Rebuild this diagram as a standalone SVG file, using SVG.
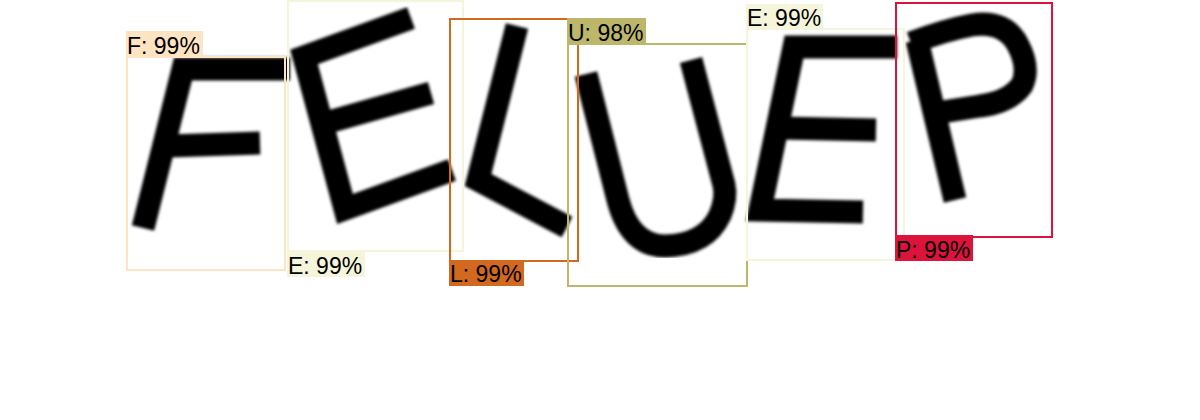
<svg xmlns="http://www.w3.org/2000/svg" width="1200" height="420" viewBox="0 0 1200 420">
  <defs>
    <filter id="soft" x="-5%" y="-5%" width="110%" height="110%">
      <feGaussianBlur stdDeviation="1.5"/>
    </filter>
  </defs>
  <style>
    .stroke { fill: none; stroke: #000; stroke-width: 23; stroke-linecap: butt; stroke-linejoin: miter; }
    .round { stroke-linejoin: round; }
    .box { fill: none; stroke-width: 2; }
    .lbl { font-family: "Liberation Sans", Arial, sans-serif; font-size: 23px; fill: #000; }
  </style>
  <rect x="0" y="0" width="1200" height="420" fill="#ffffff"/>

  <g id="captcha" filter="url(#soft)">
    <!-- F -->
    <path class="stroke" d="M 290,69 L 183,69 L 143,228"/>
    <path class="stroke" d="M 168,146 L 260,143" stroke-width="25"/>
    <!-- E -->
    <path class="stroke" d="M 411,18 L 304,57 L 345,209 L 452,170"/>
    <path class="stroke" d="M 325,123 L 431,93"/>
    <!-- L -->
    <path class="stroke" d="M 517,26 L 478,180 L 567,227"/>
    <!-- U -->
    <path class="stroke round" d="M 586,74 L 618,200 Q 630,246 665,246 Q 706,245 720,215 Q 727,198 724,185 L 691,60"/>
    <!-- E -->
    <path class="stroke" d="M 897,47 L 794,47 L 760,210 L 863,212" stroke-width="25"/>
    <path class="stroke" d="M 779,128 L 876,130" stroke-width="25"/>
    <!-- P -->
    <path class="stroke" d="M 917,40 L 955,200" stroke-width="24"/>
    <path class="stroke round" d="M 911,43 Q 945,30 972,25 Q 1005,20 1018,45 Q 1030,68 1022,85 Q 1010,102 980,106 L 942,112" stroke-width="24"/>
  </g>

  <g id="det-F">
    <rect class="box" x="127" y="57" width="158" height="213" stroke="#FFE4C4"/>
    <rect x="126" y="31" width="77" height="26" fill="#FFE4C4"/>
    <text class="lbl" x="127" y="54">F: 99%</text>
  </g>
  <g id="det-E1">
    <rect class="box" x="288" y="1" width="175" height="250" stroke="#F5F5DC"/>
    <rect x="287" y="251" width="78" height="26" fill="#F5F5DC"/>
    <text class="lbl" x="288" y="274">E: 99%</text>
  </g>
  <g id="det-L">
    <rect class="box" x="450" y="19" width="128" height="242" stroke="#D2691E"/>
    <rect x="449" y="260" width="75" height="26" fill="#D2691E"/>
    <text class="lbl" x="450" y="282">L: 99%</text>
  </g>
  <g id="det-U">
    <rect class="box" x="568" y="44" width="179" height="242" stroke="#BDB76B"/>
    <rect x="567" y="18" width="79" height="26" fill="#BDB76B"/>
    <text class="lbl" x="568" y="41">U: 98%</text>
  </g>
  <g id="det-E2">
    <rect class="box" x="747" y="29" width="157" height="231" stroke="#F5F5DC"/>
    <rect x="746" y="4" width="77" height="25" fill="#F5F5DC"/>
    <text class="lbl" x="747" y="26">E: 99%</text>
  </g>
  <g id="det-P">
    <rect class="box" x="896" y="3" width="156" height="234" stroke="#DC143C"/>
    <rect x="895" y="235" width="78" height="26" fill="#DC143C"/>
    <text class="lbl" x="896" y="258">P: 99%</text>
  </g>
</svg>
